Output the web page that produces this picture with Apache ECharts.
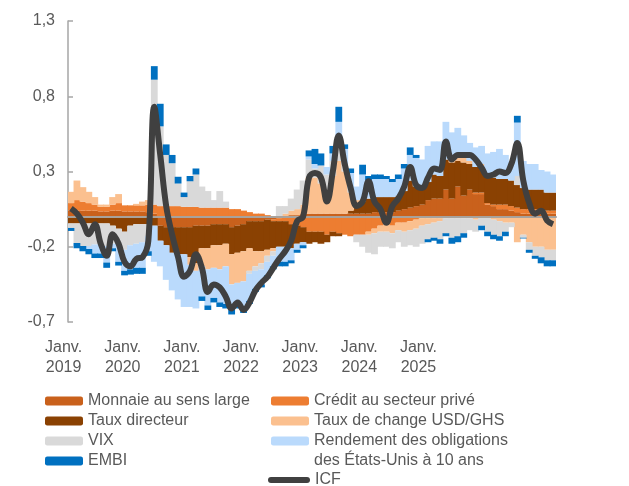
<!DOCTYPE html>
<html>
<head>
<meta charset="utf-8">
<script src="https://cdn.jsdelivr.net/npm/echarts@6/dist/echarts.min.js"></script>
<style>
  html, body { margin: 0; padding: 0; background: #fff; }
  #main { width: 629px; height: 486px; }
</style>
</head>
<body>
<div id="main"></div>
<script>
  // mois janv. 2019 -> oct. 2025
  var months = [];
  for (var y = 2019; y <= 2025; y++) {
    for (var m = 1; m <= 12; m++) {
      if (months.length < 82) months.push(y + '-' + (m < 10 ? '0' + m : m));
    }
  }
  var yearLabels = ['2019', '2020', '2021', '2022', '2023', '2024', '2025'];
  var yTicks = [-0.7, -0.2, 0.3, 0.8, 1.3];

  var monnaie = [
    .04, .04, .04, .04, .04, .035, .035, .04, .04, .035, .035, .035, .035, .03,
    .02, -.06, -.07, -.07, -.07, -.07, -.07, -.06, -.06, -.06, -.05, -.05, -.05,
    -.07, -.06, -.05, -.03, -.03, -.03, -.02, -.02, -.01,
    0, .01, .01, .02, .02, .02, .02, .02, .02, .02, .02, .02, .02, .02, .02, .03, .03,
    .03,
    .03, .04, .05, .06, .07, .08, .11, .12, .12, .18, .12, .2, .14, .18, .15, .15, .08, .07, .05, .05, .04, .03, .02, .02, .02, .02, .02, .02
  ];
  var credit = [
    .05, .07, .06, .05, .04, .03, .03, .04, .05, .04, .04, .04, .04, .05,
    .06, .07, .07, .07, .07, .065, .065, .065, .06, .06, .06, .06, .06,
    .05, .05, .04, .03, .02, .02, .01, -.01, -.02,
    -.03, -.05, -.06, -.07, -.1, -.1, -.1, -.12, -.1, -.11, -.12, -.13, -.12, -.12, -.1, -.08, -.06,
    -.05,
    -.06, -.04, -.04, -.03, -.02, -.01, -.01, -.01, -.01, -.01, -.01, -.01, -.01, -.01, .01, .01, .01, .01, .03, .03, .03, .03, .03, .03, .03, .03, .02, .02
  ];
  var tauxDirecteur = [
    -.045, -.045, -.045, -.045, -.045, -.045, -.045, -.06, -.08, -.1, -.06, -.05, -.05, -.05,
    -.06, -.1, -.12, -.17, -.18, -.18, -.2, -.25, -.15, -.15, -.14, -.14, -.13,
    -.18, -.18, -.18, -.18, -.2, -.2, -.2, -.18, -.17,
    -.17, -.16, -.12, -.1, -.08, -.07, -.08, -.05, -.03, -.02, 0, .02, .05, .08, .1, .1, .1,
    .1,
    .1, .1, .12, .18, .13, .12, .12, .16, .15, .2, .24, .17, .22, .17, .17, .17, .18, .18, .17, .17, .17, .15, .14, .13, .13, .13, .12, .12
  ];
  var tauxChange = [
    .075, .13, .096, .075, .05, .015, .015, .05, .06, 0, 0, .01, .025, .03,
    0, 0, 0, 0, 0, 0, -.05, -.05, -.12, -.14, -.15, -.16, -.15,
    -.2, -.2, -.2, -.15, -.1, -.08, -.04, -.02, 0,
    .02, .03, .04, .06, .24, .24, .2, .16, .25, .35, .28, .12, .04, .02, -.02, -.03, -.04,
    -.05,
    -.05, -.05, -.06, -.06, -.06, -.05, -.04, -.03, -.02, 0, .03, .02, .03, .02, -.02, .02, .01, -.02, -.03, -.04, -.04, -.17, -.12, -.17, -.2, -.2, -.22, -.22
  ];
  var vix = [
    -.03, -.13, -.15, -.15, -.14, -.14, -.15, -.12, -.12, -.12, -.13, -.13, -.12, -.08,
    .83, .53, .34, .285, .15, .065, .17, .215, .14, .11, .05, .11, .04,
    0, 0, 0, -.02, -.03, -.04, -.04, -.03, .07,
    .05, .08, .13, .16, .12, .06, .12, .1, .1, .14, .05, .03, -.05, -.08, -.12, -.14, -.1,
    -.1,
    -.1, -.08, -.1, -.1, -.12, -.12, -.1, -.1, -.12, -.1, -.13, -.12, -.1, -.08, -.08, -.06, -.1, -.1, -.1, -.06, -.03, .06, -.02, -.05, -.06, -.07, -.07, -.07
  ];
  var rendement = [
    0, 0, 0, -.02, -.06, -.06, -.11, -.03, -.1, -.14, -.16, -.16, -.17, -.1,
    -.24, -.17, -.23, -.25, -.3, -.35, -.28, -.25, -.2, -.24, -.2, -.22, -.25,
    -.16, -.14, -.18, -.18, -.12, -.1, -.09, -.07, -.1,
    -.1, -.08, -.04, -.02, .02, .03, 0, .05, .05, .12, .1, .1, .09, .16, .12, .12, .12,
    .12,
    .1, .11, .15, .17, .19, .18, .24, .22, .23, .25, .17, .2, .15, .12, .13, .12, .14, .17, .2, .16, .13, .355, .18, .17, .17, .13, .14, .12
  ];
  var embi = [
    -.02, -.035, -.035, -.035, -.03, -.03, -.035, -.02, -.025, -.03, -.035, -.04, -.04, -.03,
    .09, .15, .07, .055, .045, .03, .035, .04, -.03, -.03, -.03, -.03, -.03,
    -.04, -.03, -.03, -.02, -.02, -.02, -.02, -.02, -.03,
    -.03, -.02, -.02, -.02, .04, .1, .08, 0, .05, .1, .03, .03, 0, .065, .03, .03, .03,
    .02,
    .02, .03, .03, .05, .02, 0, -.02, -.02, -.03, -.02, -.04, -.04, -.03, 0, 0, -.03, -.03, -.03, -.03, -.03, 0, .045, -.005, -.02, -.02, -.04, -.04, -.04
  ];
  var icf = [
    .055, .02, -.04, -.117, -.05, -.18, -.26, -.117, -.18, -.30, -.33, -.28, -.27, -.16,
    .73, .41, .07, -.12, -.27, -.40, -.36, -.25, -.34, -.50, -.45, -.47, -.53,
    -.61, -.57, -.62, -.57, -.49, -.44, -.40, -.34, -.28,
    -.23, -.16, -.03, 0, .26, .29, .26, .10, .30, .54, .35, .19, .07, .10, .235, .10, .05,
    -.04,
    .07, .12, .2, .33, .21, .19, .26, .32, .31, .50, .38, .41, .41, .41, .38, .325, .27, .28, .30, .29, .35, .49, .24, .09, .02, .04, -.025, -.05
  ];

  var barNames = [
    'Monnaie au sens large', 'Crédit au secteur privé', 'Taux directeur',
    'Taux de change USD/GHS', 'VIX',
    'Rendement des obligations des États-Unis à 10 ans', 'EMBI'
  ];
  var barData = [monnaie, credit, tauxDirecteur, tauxChange, vix, rendement, embi];
  var barColors = ['#C9611C', '#ED7D31', '#8A4102', '#FBC08F', '#D9D9D9', '#BADAFC', '#0070C0'];

  var font = 'Liberation Sans';
  var textGrey = '#595959';

  var series = barNames.map(function (name, i) {
    return {
      name: name,
      type: 'bar',
      stack: 'total',
      // un peu plus large que la catégorie pour que les barres se touchent
      barWidth: 6.8,
      itemStyle: { color: barColors[i] },
      data: barData[i]
    };
  });
  series.push({
    name: 'ICF',
    type: 'line',
    z: 5,
    smooth: 0.4,
    showSymbol: false,
    symbol: 'none',
    lineStyle: { color: '#404040', width: 6 },
    itemStyle: { color: '#404040' },
    data: icf
  });

  var legendText = { color: textGrey, fontSize: 16, fontFamily: font, lineHeight: 20 };

  var chart = echarts.init(document.getElementById('main'));
  chart.setOption({
    animation: false,
    textStyle: { fontFamily: font },
    grid: [
      { left: 68, right: 73, top: 21, height: 301 },
      { left: 34, width: 414, top: 21, height: 301 }
    ],
    legend: [
      {
        orient: 'vertical', left: 45, top: 391, itemGap: 0, padding: 0,
        itemWidth: 38, itemHeight: 9, textStyle: legendText,
        data: ['Monnaie au sens large', 'Taux directeur', 'VIX', 'EMBI']
      },
      {
        orient: 'vertical', left: 271, top: 391, itemGap: 0, padding: 0,
        itemWidth: 38, itemHeight: 9, textStyle: legendText,
        data: ['Crédit au secteur privé', 'Taux de change USD/GHS']
      },
      {
        orient: 'vertical', left: 271, top: 411, itemGap: 0, padding: 0,
        itemWidth: 38, itemHeight: 9, textStyle: legendText,
        data: ['Rendement des obligations des États-Unis à 10 ans'],
        formatter: function () {
          return ' \nRendement des obligations\ndes États-Unis à 10 ans';
        }
      },
      {
        orient: 'vertical', left: 268, top: 470, itemGap: 0, padding: 0,
        itemWidth: 42, itemHeight: 7, textStyle: legendText,
        data: [{ name: 'ICF', icon: 'path://M3,0 L39,0 A3,3 0 0 1 39,6 L3,6 A3,3 0 0 1 3,0 Z' }]
      }
    ],
    xAxis: [
      {
        type: 'category',
        gridIndex: 0,
        data: months,
        z: 3,
        axisLine: { onZero: true, onZeroAxisIndex: 0, lineStyle: { color: '#A8A29C', width: 2 } },
        axisTick: { show: false },
        axisLabel: { show: false },
        splitLine: { show: false }
      },
      {
        type: 'category',
        gridIndex: 1,
        data: yearLabels,
        axisLine: { show: false },
        axisTick: { show: false },
        axisLabel: {
          color: textGrey, fontSize: 16, fontFamily: font, lineHeight: 20, margin: 16,
          formatter: function (v) { return 'Janv.\n' + v; }
        }
      }
    ],
    yAxis: [
      {
        type: 'value',
        gridIndex: 0,
        min: -0.7,
        max: 1.3,
        axisLine: { show: true, lineStyle: { color: '#A6A6A6', width: 1.5 } },
        axisTick: { show: true, inside: true, length: 5, customValues: yTicks, lineStyle: { color: '#A6A6A6', width: 1.5 } },
        axisLabel: {
          customValues: yTicks,
          color: textGrey, fontSize: 16, fontFamily: font, margin: 13,
          formatter: function (v) { return v.toFixed(1).replace('.', ','); }
        },
        splitLine: { show: false }
      },
      { type: 'value', gridIndex: 1, show: false }
    ],
    series: series
  });
</script>
</body>
</html>
